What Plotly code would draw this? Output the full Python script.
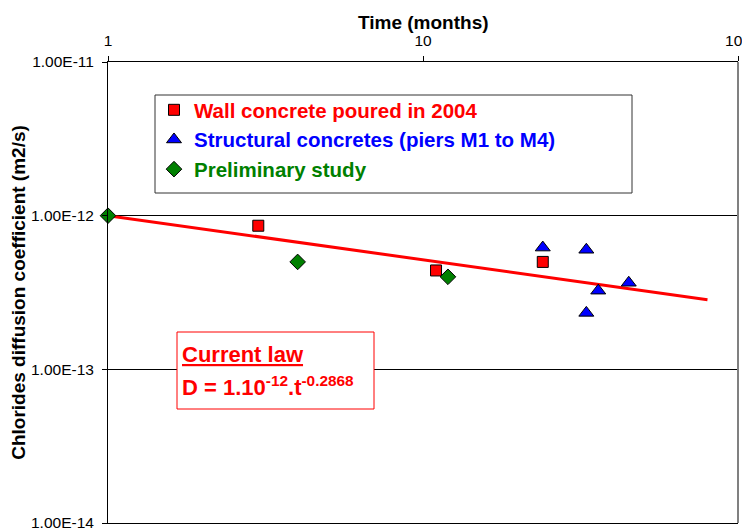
import plotly.graph_objects as go

# ---- data ----
wall_t = [3, 11, 24]
wall_D = [8.6e-13, 4.4e-13, 5.0e-13]

struct_t = [24, 33, 33, 36, 45]
struct_D = [6.2e-13, 6.0e-13, 2.33e-13, 3.25e-13, 3.66e-13]

prelim_t = [1, 4, 12]
prelim_D = [1.0e-12, 5.0e-13, 4.0e-13]

law_t = [1, 80]
law_D = [1.0e-12, 2.84e-13]

x_tickvals = [1, 10, 100]
x_ticktext = ["1", "10", "100"]
y_tickvals = [1e-14, 1e-13, 1e-12, 1e-11]
y_ticktext = ["1.00E-14", "1.00E-13", "1.00E-12", "1.00E-11"]

FONT = "Liberation Sans, Arial, sans-serif"

fig = go.Figure()

fig.add_trace(go.Scatter(
    x=law_t, y=law_D, mode="lines",
    line=dict(color="#ff0000", width=3),
    showlegend=False, cliponaxis=False,
))

fig.add_trace(go.Scatter(
    x=wall_t, y=wall_D, mode="markers",
    name='<span style="color:#ff0000"><b>Wall concrete poured in 2004</b></span>',
    marker=dict(symbol="square", size=11, color="#ff0000",
                line=dict(color="black", width=1)),
    legendgroup="a", cliponaxis=False,
))
fig.add_trace(go.Scatter(
    x=struct_t, y=struct_D, mode="markers",
    name='<span style="color:#0000ff"><b>Structural concretes (piers M1 to M4)</b></span>',
    marker=dict(symbol="triangle-up", size=13, color="#0000ff",
                line=dict(color="black", width=1)),
    legendgroup="b", cliponaxis=False,
))
fig.add_trace(go.Scatter(
    x=prelim_t, y=prelim_D, mode="markers",
    name='<span style="color:#008000"><b>Preliminary study</b></span>',
    marker=dict(symbol="diamond", size=12, color="#008000",
                line=dict(color="black", width=1)),
    legendgroup="c", cliponaxis=False,
))

# page has an 8px body margin; plot area in page pixels is 108..738 x 62..523
def px(x):
    return (x - 108) / 630.0

def py(y):
    return (523 - y) / 461.0

fig.add_shape(type="rect", xref="paper", yref="paper",
              x0=px(155), x1=px(632), y0=py(193), y1=py(95),
              line=dict(color="#333333", width=1), fillcolor="rgba(0,0,0,0)",
              layer="below")

# current law box
fig.add_shape(type="rect", xref="paper", yref="paper",
              x0=px(177), x1=px(374), y0=py(409), y1=py(332),
              line=dict(color="#ff0000", width=1), fillcolor="white",
              layer="above")
fig.add_annotation(xref="paper", yref="paper", x=px(180), y=py(354),
                   xanchor="left", yanchor="middle", showarrow=False,
                   text="<b><u>Current law</u></b>",
                   font=dict(family=FONT, size=22, color="#ff0000"))
fig.add_annotation(xref="paper", yref="paper", x=px(180), y=py(386),
                   xanchor="left", yanchor="middle", showarrow=False,
                   text="<b>D = 1.10<sup>-12</sup>.t<sup>-0.2868</sup></b>",
                   font=dict(family=FONT, size=22, color="#ff0000"))

# x-axis title (top)
fig.add_annotation(xref="paper", yref="paper", x=0.5, y=py(23),
                   xanchor="center", yanchor="middle", showarrow=False,
                   text="<b>Time (months)</b>",
                   font=dict(family=FONT, size=19, color="black"))

# right gray border
fig.add_shape(type="line", xref="paper", yref="paper",
              x0=1, x1=1, y0=0, y1=1,
              line=dict(color="#808080", width=2))

fig.update_layout(
    width=742, height=524,
    margin=dict(l=100, r=12, t=54, b=9),
    paper_bgcolor="white", plot_bgcolor="white",
    font=dict(family=FONT, size=15, color="black"),
    showlegend=True,
    legend=dict(
        x=px(154), y=py(90), xanchor="left", yanchor="top",
        bgcolor="rgba(0,0,0,0)", borderwidth=0,
        font=dict(family=FONT, size=20.5),
        traceorder="grouped", tracegroupgap=0,
        itemsizing="trace",
    ),
    xaxis=dict(
        type="log", range=[0, 2], side="top", automargin=False,
        tickvals=x_tickvals, ticktext=x_ticktext,
        ticks="outside", ticklen=5, tickcolor="black",
        ticklabelstandoff=4, ticklabeloverflow="allow",
        showline=True, linecolor="black", linewidth=1, mirror=True,
        showgrid=False, zeroline=False,
        tickfont=dict(size=15.5),
    ),
    yaxis=dict(
        type="log", range=[-14, -11], automargin=False,
        tickvals=y_tickvals, ticktext=y_ticktext,
        ticks="outside", ticklen=5, tickcolor="black",
        ticklabelstandoff=5,
        showline=True, linecolor="black", linewidth=1,
        showgrid=True, gridcolor="black", gridwidth=1, zeroline=False,
        title=dict(text="<b>Chlorides diffusion coefficient (m2/s)</b>",
                   font=dict(size=19), standoff=8),
        tickfont=dict(size=15.5),
    ),
)

fig.write_html("out.html")
